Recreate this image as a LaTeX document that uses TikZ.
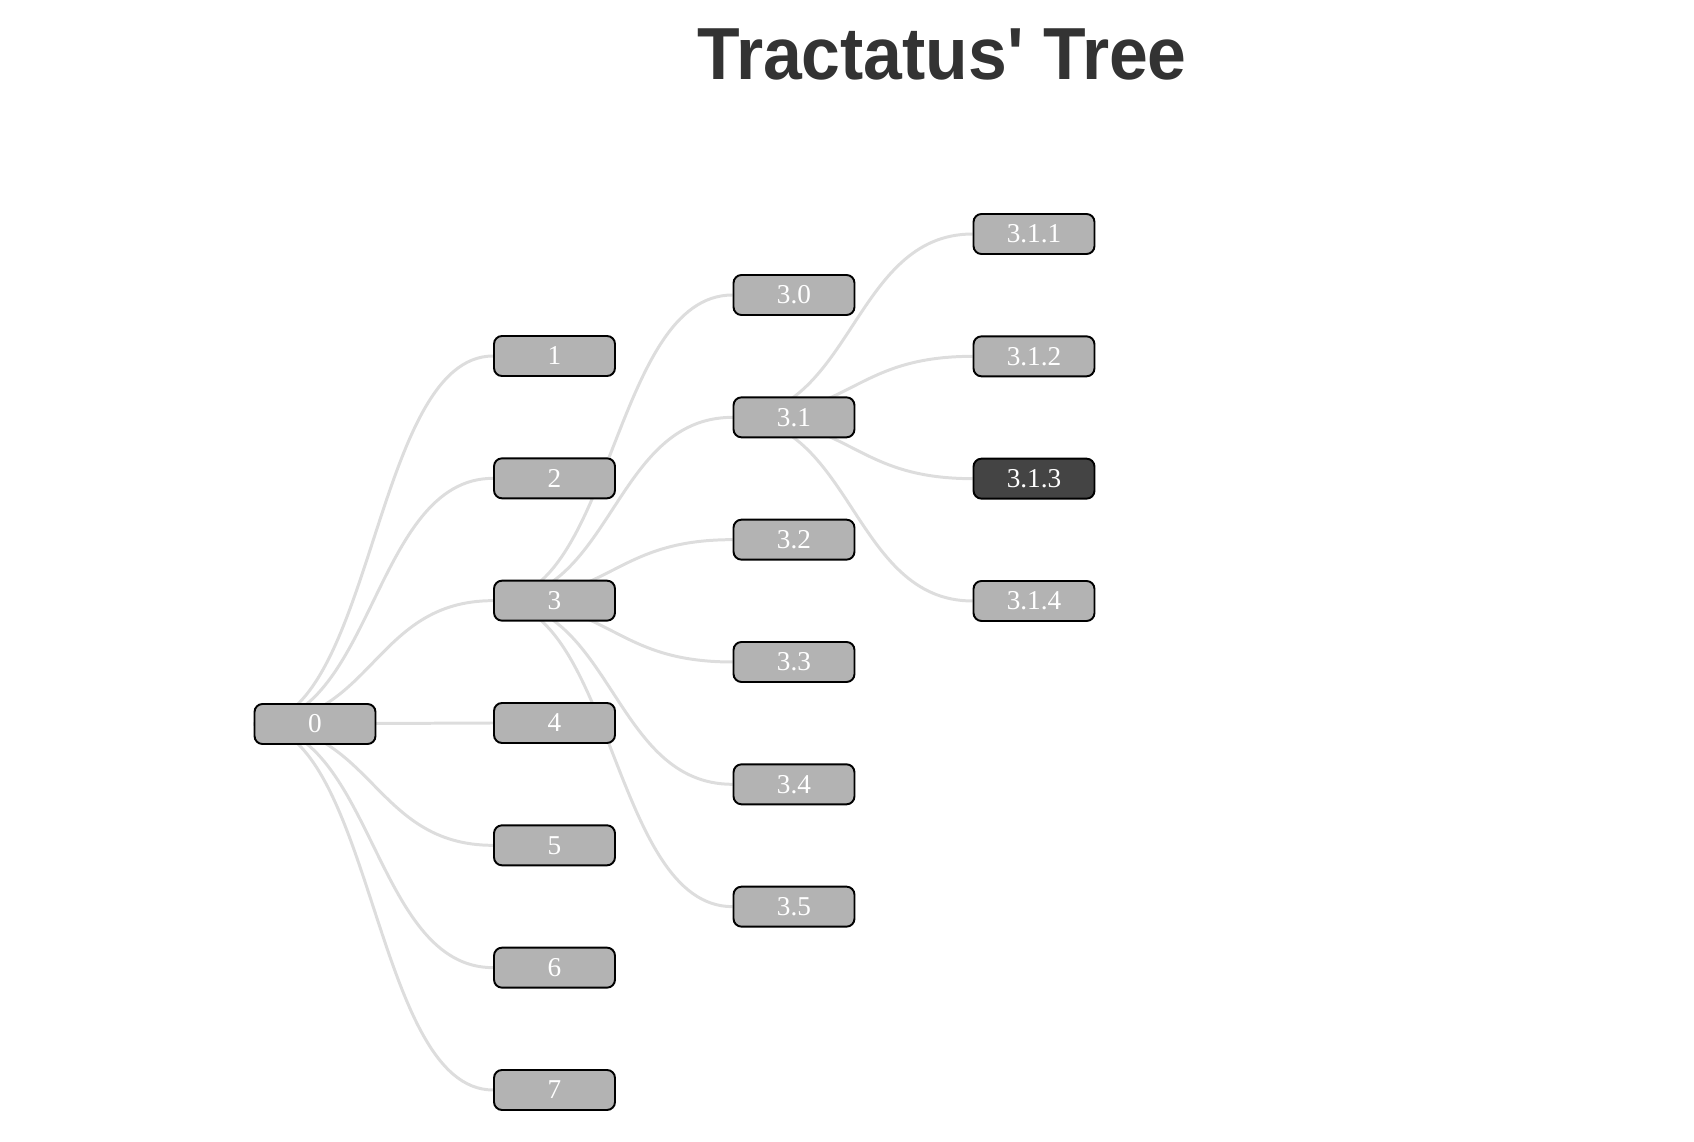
\documentclass[tikz,border=0pt]{standalone}
\usepackage{fontspec}
\setmainfont{Liberation Serif}
\newfontfamily\titlefont{Liberation Sans}
\usepackage{graphicx}
\usetikzlibrary{backgrounds}
\definecolor{boxgray}{HTML}{B3B3B3}
\definecolor{boxdark}{HTML}{444444}
\definecolor{linkgray}{HTML}{DDDDDD}
\definecolor{titlegray}{HTML}{333333}

\begin{document}
\begin{tikzpicture}[
  x=0.02cm, y=-0.02cm,
  leaf/.style={draw=black, fill=boxgray, line width=1.1pt, rounded corners=0.16cm,
               minimum width=2.42cm, minimum height=0.8cm, inner sep=0pt,
               text=white, font=\fontsize{15.5}{18}\selectfont},
  leafsel/.style={leaf, fill=boxdark},
  link/.style={draw=linkgray, line width=1.7pt}
]
  \useasboundingbox (0,0) rectangle (1694,1142);

  % Title
  \node[anchor=base, text=titlegray, inner sep=0pt] (title) at (942,80)
    {\titlefont\bfseries\fontsize{42}{50}\selectfont\scalebox{0.945}[1]{Tractatus' Tree}};

  % Root
  \node[leaf] (n0) at (315,724) {0};

  % First level
  \foreach \k in {1,...,7}
    \node[leaf] (n\k) at (554.5,{356+122.33*(\k-1)}) {\k};

  % Children of 3
  \foreach \k in {0,...,5}
    \node[leaf] (n3\k) at (794,{295+122.33*\k}) {3.\k};

  % Children of 3.1
  \foreach \k/\s in {1/leaf, 2/leaf, 3/leafsel, 4/leaf}
    \node[\s] (n31\k) at (1034,{234+122.33*(\k-1)}) {3.1.\k};

  % Links
  \begin{scope}[on background layer]
    \foreach \k in {1,...,7}
      \draw[link] (n0.west) .. controls +(120,0) and +(-120,0) .. (n\k.west);
    \foreach \k in {0,...,5}
      \draw[link] (n3.west) .. controls +(120,0) and +(-120,0) .. (n3\k.west);
    \foreach \k in {1,...,4}
      \draw[link] (n31.west) .. controls +(120,0) and +(-120,0) .. (n31\k.west);
  \end{scope}
\end{tikzpicture}
\end{document}
